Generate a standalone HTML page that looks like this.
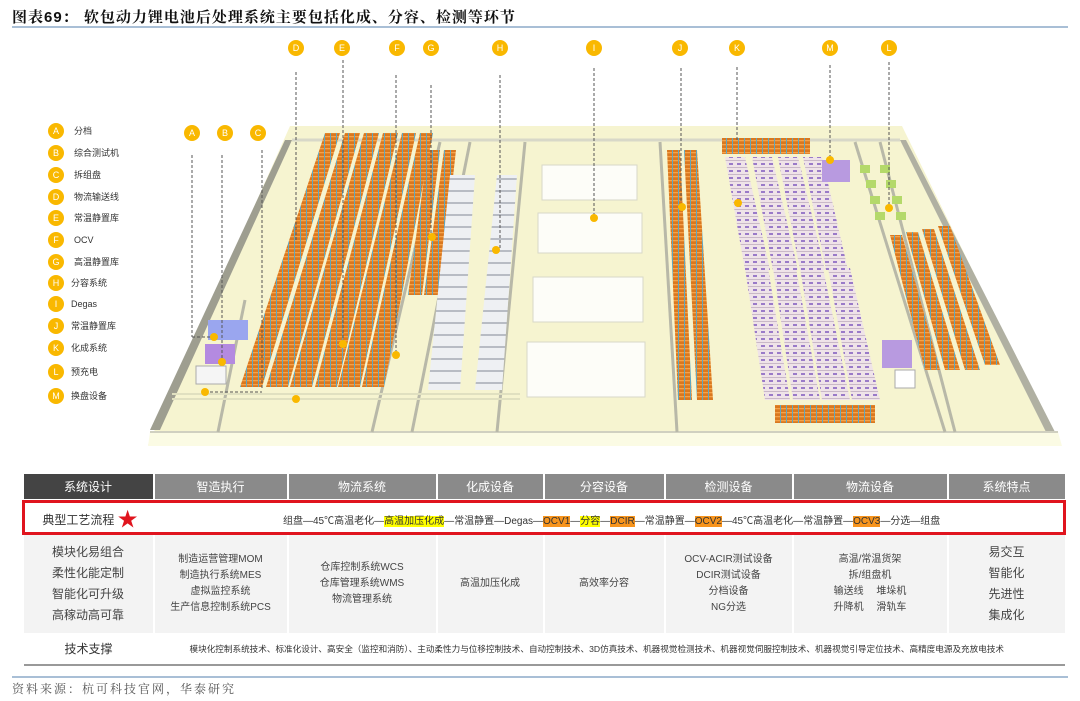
<!DOCTYPE html>
<html><head><meta charset="utf-8"><style>
*{margin:0;padding:0;box-sizing:border-box}
body{width:1080px;height:701px;background:#fff;font-family:"Liberation Sans","Noto Sans CJK SC",sans-serif;position:relative;overflow:hidden;color:#333}
.title{position:absolute;left:12px;top:6px;font-size:15px;font-weight:bold;color:#111;font-family:"Liberation Sans","Noto Serif CJK SC",serif;letter-spacing:1px}
.bl{position:absolute;left:12px;width:1056px;height:2px;background:#a9bfd6}
table{position:absolute;left:22px;top:474px;width:1044px;border-collapse:collapse;font-size:10px}
td{text-align:center;vertical-align:middle}
.hd td{background:#8a8a8a;color:#fff;font-size:12px;height:25px;border-right:2px solid #fff}
.hd td:first-child{background:#444}
.body td{background:#f3f3f3;border-right:2px solid #fff;height:100px;line-height:16px;color:#444}
.src{position:absolute;left:12px;top:680px;font-size:12px;color:#555;font-family:"Liberation Serif","Noto Serif CJK SC",serif;letter-spacing:2px}
.hl{background:#ff0;}
.or{background:#f7941d}
</style></head><body>
<div class="title">图表69： 软包动力锂电池后处理系统主要包括化成、分容、检测等环节</div>
<div class="bl" style="top:26px"></div>
<svg width="1080" height="470" style="position:absolute;left:0;top:0">
<defs>
<pattern id="ps" width="6" height="4" patternUnits="userSpaceOnUse"><rect width="6" height="4" fill="#d9781f"/><rect width="6" height="1.3" fill="#f5a24a"/><rect width="1" height="4" fill="#5fa6c0"/></pattern>
<pattern id="pw" width="8" height="12" patternUnits="userSpaceOnUse"><rect width="8" height="12" fill="#eef0f3"/><rect y="10" width="8" height="2" fill="#b8bcc4"/></pattern>
<pattern id="pk" width="8" height="7" patternUnits="userSpaceOnUse"><rect width="8" height="7" fill="#efe3e8"/><rect x="1" y="2" width="4" height="2" fill="#9a7ac8"/><rect y="6" width="8" height="1" fill="#c9b8c8"/></pattern>
</defs>
<polygon points="290,126 902,126 1058,445 148,445" fill="#f6f4d0"/>
<polygon points="150,432 1058,432 1062,446 148,446" fill="#fbfbe4"/>
<polygon points="285,140 292,140 160,430 150,430" fill="#9e9e90"/>
<polygon points="900,140 906,140 1055,432 1046,432" fill="#b0b0a2"/>
<line x1="292" y1="140" x2="900" y2="140" stroke="#d8d8c8" stroke-width="3"/>
<line x1="150" y1="432" x2="1058" y2="432" stroke="#d0d0c0" stroke-width="2"/>
<g stroke="#b8b8a8" stroke-width="3">
<line x1="440" y1="142" x2="372" y2="432"/><line x1="470" y1="142" x2="412" y2="432"/><line x1="525" y1="142" x2="497" y2="432"/>
<line x1="660" y1="142" x2="677" y2="432"/><line x1="855" y1="142" x2="945" y2="432"/><line x1="880" y1="142" x2="955" y2="432"/>
<line x1="245" y1="300" x2="218" y2="432"/>
</g>
<g fill="url(#ps)">
<polygon points="325,133 340,133 262,387 240,387"/>
<polygon points="345,133 360,133 288,387 266,387"/>
<polygon points="364,133 379,133 312,387 290,387"/>
<polygon points="383,133 398,133 337,387 315,387"/>
<polygon points="402,133 416,133 360,387 338,387"/>
<polygon points="420,133 433,133 384,387 362,387"/>
<polygon points="428,150 440,150 422,295 408,295"/>
<polygon points="444,150 456,150 440,295 424,295"/>
</g>
<polygon points="450,175 475,175 460,390 428,390" fill="url(#pw)"/>
<polygon points="497,175 517,175 502,390 475,390" fill="url(#pw)"/>
<g fill="#fdfdf8" stroke="#d8d8c8">
<rect x="542" y="165" width="95" height="35"/>
<rect x="538" y="213" width="104" height="40"/>
<rect x="533" y="277" width="110" height="45"/>
<rect x="527" y="342" width="118" height="55"/>
</g>
<polygon points="667,150 680,150 692,400 678,400" fill="url(#ps)"/>
<polygon points="684,150 697,150 713,400 697,400" fill="url(#ps)"/>
<rect x="722" y="138" width="88" height="16" fill="url(#ps)"/>
<g fill="url(#pk)">
<polygon points="725,157 745,157 770,270 745,270"/>
<polygon points="752,157 772,157 798,270 773,270"/>
<polygon points="778,157 798,157 825,270 800,270"/>
<polygon points="803,157 822,157 848,270 826,270"/>
<polygon points="745,268 768,268 790,400 765,400"/>
<polygon points="773,268 796,268 820,400 793,400"/>
<polygon points="800,268 823,268 850,400 822,400"/>
<polygon points="828,268 850,268 880,400 852,400"/>
</g>
<rect x="822" y="160" width="28" height="22" fill="#b89ae0"/>
<rect x="882" y="340" width="30" height="28" fill="#b89ae0"/>
<rect x="895" y="370" width="20" height="18" fill="#fff" stroke="#aaa"/>
<g fill="#b4d96a"><rect x="860" y="165" width="10" height="8"/><rect x="880" y="165" width="10" height="8"/><rect x="866" y="180" width="10" height="8"/><rect x="886" y="180" width="10" height="8"/><rect x="870" y="196" width="10" height="8"/><rect x="892" y="196" width="10" height="8"/><rect x="875" y="212" width="10" height="8"/><rect x="896" y="212" width="10" height="8"/></g>
<g fill="url(#ps)">
<polygon points="890,235 902,235 940,370 925,370"/>
<polygon points="906,232 918,232 960,370 945,370"/>
<polygon points="922,229 934,229 980,370 965,370"/>
<polygon points="938,226 950,226 1000,365 985,365"/>
</g>
<rect x="775" y="405" width="100" height="18" fill="url(#ps)"/>
<rect x="208" y="320" width="40" height="20" fill="#9aa6ef"/>
<rect x="205" y="344" width="30" height="20" fill="#b48ae0"/>
<rect x="196" y="366" width="30" height="18" fill="#f5f5f5" stroke="#aaa"/>
<g stroke="#e0e0c0" stroke-width="2"><line x1="172" y1="394" x2="520" y2="394"/><line x1="172" y1="399" x2="520" y2="399"/></g>
<g stroke="#555" stroke-width="1" stroke-dasharray="3,2">
<line x1="192" y1="155" x2="192" y2="337"/><line x1="192" y1="337" x2="214" y2="337"/>
<line x1="222" y1="155" x2="222" y2="360"/><line x1="262" y1="150" x2="262" y2="390"/><line x1="205" y1="392" x2="262" y2="392"/>
<line x1="296" y1="72" x2="296" y2="240"/><line x1="343" y1="60" x2="343" y2="343"/><line x1="396" y1="75" x2="396" y2="355"/>
<line x1="431" y1="85" x2="431" y2="237"/><line x1="500" y1="75" x2="500" y2="250"/><line x1="594" y1="68" x2="594" y2="218"/>
<line x1="681" y1="68" x2="681" y2="206"/><line x1="737" y1="67" x2="737" y2="140"/><line x1="830" y1="65" x2="830" y2="160"/><line x1="889" y1="62" x2="889" y2="208"/>
</g>
<g fill="#f9b800">
<circle cx="214" cy="337" r="4"/><circle cx="222" cy="362" r="4"/><circle cx="205" cy="392" r="4"/><circle cx="296" cy="399" r="4"/>
<circle cx="343" cy="344" r="4"/><circle cx="396" cy="355" r="4"/><circle cx="432" cy="237" r="4"/><circle cx="496" cy="250" r="4"/>
<circle cx="594" cy="218" r="4"/><circle cx="682" cy="207" r="4"/><circle cx="738" cy="203" r="4"/><circle cx="830" cy="160" r="4"/><circle cx="889" cy="208" r="4"/>
</g>
<g fill="#f9b800"><circle cx="296" cy="48" r="8"/><circle cx="342" cy="48" r="8"/><circle cx="397" cy="48" r="8"/><circle cx="431" cy="48" r="8"/><circle cx="500" cy="48" r="8"/><circle cx="594" cy="48" r="8"/><circle cx="680" cy="48" r="8"/><circle cx="737" cy="48" r="8"/><circle cx="830" cy="48" r="8"/><circle cx="889" cy="48" r="8"/>
<circle cx="192" cy="133" r="8"/><circle cx="225" cy="133" r="8"/><circle cx="258" cy="133" r="8"/></g>
<g fill="#fff" font-size="9" text-anchor="middle" font-family="Liberation Sans">
<text x="296" y="51">D</text><text x="342" y="51">E</text><text x="397" y="51">F</text><text x="431" y="51">G</text><text x="500" y="51">H</text><text x="594" y="51">I</text><text x="680" y="51">J</text><text x="737" y="51">K</text><text x="830" y="51">M</text><text x="889" y="51">L</text>
<text x="192" y="136">A</text><text x="225" y="136">B</text><text x="258" y="136">C</text>
</g>
<g fill="#f9b800">
<circle cx="56" cy="131" r="8"/><circle cx="56" cy="153" r="8"/><circle cx="56" cy="175" r="8"/><circle cx="56" cy="197" r="8"/><circle cx="56" cy="218" r="8"/><circle cx="56" cy="240" r="8"/><circle cx="56" cy="262" r="8"/><circle cx="56" cy="283" r="8"/><circle cx="56" cy="304" r="8"/><circle cx="56" cy="326" r="8"/><circle cx="56" cy="348" r="8"/><circle cx="56" cy="372" r="8"/><circle cx="56" cy="396" r="8"/>
</g>
<g fill="#fff" font-size="9" text-anchor="middle" font-family="Liberation Sans">
<text x="56" y="134">A</text><text x="56" y="156">B</text><text x="56" y="178">C</text><text x="56" y="200">D</text><text x="56" y="221">E</text><text x="56" y="243">F</text><text x="56" y="265">G</text><text x="56" y="286">H</text><text x="56" y="307">I</text><text x="56" y="329">J</text><text x="56" y="351">K</text><text x="56" y="375">L</text><text x="56" y="399">M</text>
</g>
<g fill="#333" font-size="9" font-family="Liberation Sans,Noto Sans CJK SC,sans-serif">
<text x="74" y="134">分档</text><text x="74" y="156">综合测试机</text><text x="74" y="178">拆组盘</text><text x="74" y="200">物流输送线</text><text x="74" y="221">常温静置库</text><text x="74" y="243">OCV</text><text x="74" y="265">高温静置库</text><text x="71" y="286">分容系统</text><text x="71" y="307">Degas</text><text x="71" y="329">常温静置库</text><text x="71" y="351">化成系统</text><text x="71" y="375">预充电</text><text x="71" y="399">换盘设备</text>
</g>
</svg>
<table>
<tr class="hd"><td style="width:130px">系统设计</td><td style="width:134px">智造执行</td><td style="width:149px">物流系统</td><td style="width:107px">化成设备</td><td style="width:121px">分容设备</td><td style="width:128px">检测设备</td><td style="width:155px">物流设备</td><td style="border-right:0">系统特点</td></tr>
<tr><td colspan="8" style="height:2px"></td></tr>
<tr><td colspan="8" style="height:30px;border:3px solid #e0141e;text-align:left;padding:0">
<span style="display:inline-block;width:130px;text-align:center;font-size:12px">典型工艺流程 <span style="color:#e0141e;font-size:20px;vertical-align:-2px">★</span></span><span style="display:inline-block;padding-left:128px;font-size:10px">组盘—45℃高温老化—<span class="hl">高温加压化成</span>—常温静置—Degas—<span class="or">OCV1</span>—<span class="hl">分容</span>—<span class="or">DCIR</span>—常温静置—<span class="or">OCV2</span>—45℃高温老化—常温静置—<span class="or">OCV3</span>—分选—组盘</span></td></tr>
<tr class="body"><td style="font-size:12px;line-height:21px">模块化易组合<br>柔性化能定制<br>智能化可升级<br>高稼动高可靠</td><td>制造运营管理MOM<br>制造执行系统MES<br>虚拟监控系统<br>生产信息控制系统PCS</td><td>仓库控制系统WCS<br>仓库管理系统WMS<br>物流管理系统</td><td>高温加压化成</td><td>高效率分容</td><td>OCV-ACIR测试设备<br>DCIR测试设备<br>分档设备<br>NG分选</td><td>高温/常温货架<br>拆/组盘机<br>输送线　 堆垛机<br>升降机　 滑轨车</td><td style="font-size:12px;line-height:21px;border-right:0">易交互<br>智能化<br>先进性<br>集成化</td></tr>
<tr><td style="height:32px;font-size:12px;border-bottom:2px solid #999">技术支撑</td><td colspan="7" style="font-size:8.6px;text-align:left;padding-left:36px;white-space:nowrap;border-bottom:2px solid #999">模块化控制系统技术、标准化设计、高安全（监控和消防）、主动柔性力与位移控制技术、自动控制技术、3D仿真技术、机器视觉检测技术、机器视觉伺服控制技术、机器视觉引导定位技术、高精度电源及充放电技术</td></tr>
</table>
<div class="bl" style="top:676px"></div>
<div class="src">资料来源：杭可科技官网，华泰研究</div>
</body></html>
